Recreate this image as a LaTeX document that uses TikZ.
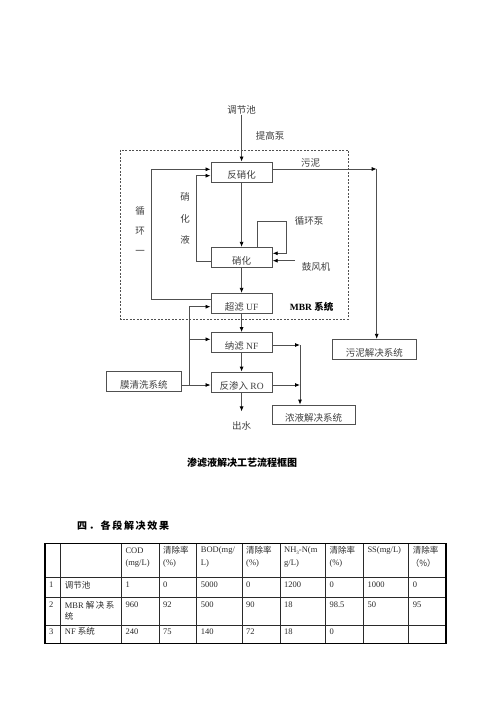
\documentclass[tikz,border=0pt]{standalone}
\usepackage{fontspec}
\setmainfont{Liberation Serif}
\newfontfamily\cjk{Noto Sans CJK SC}
\newfontfamily\cjkh[LetterSpace=17]{Noto Sans CJK SC}
\usetikzlibrary{arrows.meta}
\definecolor{ln}{HTML}{505050}
\definecolor{tx}{HTML}{404040}
\definecolor{tb}{HTML}{2a2a2a}
\tikzset{
  box/.style={draw=ln, line width=0.8pt, inner sep=0pt, minimum width=61.3pt,
    minimum height=20pt, text height=14pt, text depth=0pt, text=tx,
    font=\fontsize{9.5}{11}\selectfont},
  lbl/.style={inner sep=0pt, text=tx, font=\fontsize{9.5}{11}\selectfont\cjk},
  con/.style={draw=ln, line width=0.8pt},
  arr/.style={con, -{Latex[length=5pt,width=4pt,color=black]}},
  tcell/.style={anchor=west, inner sep=0pt, text=tb, font=\fontsize{8.5}{10}\selectfont},
}
\newcommand\tcell[4]{\node[tcell] (#1) at (#2,#3) {#4};}
\begin{document}
\begin{tikzpicture}[x=1pt,y=-1pt]
\useasboundingbox (0,0) rectangle (500,708);
\fill[white] (0,0) rectangle (500,708);

% MBR dashed frame
\draw[ln, line width=0.8pt, dash pattern=on 2pt off 1.5pt] (120.7,150) rectangle (348.3,319.3);

% boxes
\node[box] (dfx) at (241.6,172) {\cjk 反硝化};
\node[box] (xh)  at (241.6,257.3) {\cjk 硝化};
\node[box] (uf)  at (241.6,303.3) {{\cjk 超滤} UF};
\node[box] (nf)  at (241.6,342.5) {{\cjk 纳滤} NF};
\node[box] (ro)  at (241.6,382) {{\cjk 反渗入} RO};
\node[box, minimum width=75.7pt] (mq) at (143.9,381.7) {\cjk 膜清洗系统};
\node[box, minimum width=83.3pt] (wn) at (374.3,349.3) {\cjk 污泥解决系统};
\node[box, minimum width=82.7pt, minimum height=19pt] (ny) at (313.6,414.5) {\cjk 浓液解决系统};

% labels
\node[lbl] (tj) at (241.6,110) {调节池};
\node[lbl] (tb) at (270,135.7) {提高泵};
\node[lbl] (wl) at (310.7,162.7) {污泥};
\node[lbl] (xhb) at (309,221) {循环泵};
\node[lbl] (gf) at (316,267.3) {鼓风机};
\node[lbl, text=black, font=\fontsize{9.5}{11}\selectfont\bfseries] (mbr) at (311.7,306.7) {MBR {\cjk 系统}};
\node[lbl] (cs) at (241.6,426) {出水};
\node[lbl, align=center, font=\fontsize{9.5}{20.3}\selectfont\cjk] (xh1) at (140,230.5) {循\\环\\一};
\node[lbl, align=center, font=\fontsize{9.5}{21.7}\selectfont\cjk] (xhy) at (185,218.5) {硝\\化\\液};

% main flow
\draw[arr] (tj) -- (dfx);
\draw[arr] (dfx) -- (xh);
\draw[arr] (xh) -- (uf);
\draw[arr] (uf) -- (nf);
\draw[arr] (nf) -- (ro);
\draw[arr, shorten >=10pt] (ro) -- (cs);

% recycle 1 (outer)
\coordinate (l1a) at (151.7,299.3);
\coordinate (l1b) at (151.7,169.3);
\draw[arr] ([yshift=4pt]uf.west) -- (l1a) -- (l1b) -- ([yshift=2.7pt]dfx.west);
% nitrified liquid recycle
\coordinate (l2a) at (196.7,261);
\coordinate (l2b) at (196.7,175.7);
\draw[arr] ([yshift=-3.7pt]xh.west) -- (l2a) -- (l2b) -- ([yshift=-3.7pt]dfx.west);

% circulation pump loop
\coordinate (p1) at (257.3,247.3);
\coordinate (p2) at (257.3,221.7);
\coordinate (p3) at (286.7,221.7);
\coordinate (p4) at (286.7,253.3);
\draw[arr] (p1) -- (p2) -- (p3) -- (p4) -- (p4 -| xh.east);
% blower
\coordinate (b1) at (295,260.7);
\draw[arr] (b1) -- (b1 -| xh.east);

% sludge
\coordinate (s1) at (376.7,169);
\draw[arr] (s1 -| dfx.east) -- (s1);
\draw[arr] (s1) -- (s1 |- wn.north);

% membrane cleaning
\coordinate (m1) at (189.3,385);
\coordinate (m2) at (189.3,306.7);
\coordinate (m3) at (189.3,339.3);
\draw[con] (m1 -| mq.east) -- (m1);
\draw[arr] (m1) -- (m1 -| ro.west);
\draw[con] (m1) -- (m2);
\draw[arr] (m2) -- (m2 -| uf.west);
\draw[arr] (m3) -- (m3 -| nf.west);

% concentrate
\coordinate (n1) at (300,345);
\coordinate (n2) at (300,385);
\draw[arr] (n1 -| nf.east) -- (n1);
\draw[arr] (n2 -| ro.east) -- (n2);
\draw[arr] (n1) -- (n1 |- ny.north);

% caption
\node[inner sep=0pt, font=\fontsize{10}{12}\selectfont\cjk\bfseries] (cap) at (242,463) {渗滤液解决工艺流程框图};

% heading
\node[inner sep=0pt, anchor=west, font=\fontsize{10}{12}\selectfont\cjkh\bfseries] (hd) at (77,525.7) {四．各段解决效果};

% table grid
\foreach \x in {60.7,121.3,159,196.7,242,280,325.3,363.3,408.7}
  \draw[tb, line width=0.6pt] (\x,543.3) -- (\x,643.8);
\foreach \y in {577.3,597.7,625}
  \draw[tb, line width=0.6pt] (45,\y) -- (446,\y);
\draw[black, line width=1.3pt] (45,543.3) rectangle (446,643.8);

% header row
\tcell{h2a}{125.3}{550.7}{COD}
\tcell{h2b}{125.3}{563.3}{(mg/L)}
\tcell{h3a}{163}{550.7}{\cjk 清除率}
\tcell{h3b}{163}{563.3}{(\%)}
\tcell{h4a}{200.7}{550.7}{BOD(mg/}
\tcell{h4b}{200.7}{563.3}{L)}
\tcell{h5a}{246}{550.7}{\cjk 清除率}
\tcell{h5b}{246}{563.3}{(\%)}
\tcell{h6a}{284}{550.7}{NH\raisebox{-1.5pt}{\fontsize{5}{5}\selectfont 3}-N(m}
\tcell{h6b}{284}{563.3}{g/L)}
\tcell{h7a}{329.3}{550.7}{\cjk 清除率}
\tcell{h7b}{329.3}{563.3}{(\%)}
\tcell{h8a}{367.3}{550.7}{SS(mg/L)}
\tcell{h9a}{412.7}{550.7}{\cjk 清除率}
\tcell{h9b}{410.7}{563.3}{\cjk （\%）}

% row 1
\tcell{r10}{49}{585}{1}
\tcell{r11}{64.7}{585}{\cjk 调节池}
\tcell{r12}{125.3}{585}{1}
\tcell{r13}{163}{585}{0}
\tcell{r14}{200.7}{585}{5000}
\tcell{r15}{246}{585}{0}
\tcell{r16}{284}{585}{1200}
\tcell{r17}{329.3}{585}{0}
\tcell{r18}{367.3}{585}{1000}
\tcell{r19}{412.7}{585}{0}

% row 2
\tcell{r20}{49}{605}{2}
\tcell{r21}{64.7}{605}{MBR {\cjk 解\,决\,系}}
\tcell{r21b}{64.7}{616.7}{\cjk 统}
\tcell{r22}{125.3}{605}{960}
\tcell{r23}{163}{605}{92}
\tcell{r24}{200.7}{605}{500}
\tcell{r25}{246}{605}{90}
\tcell{r26}{284}{605}{18}
\tcell{r27}{329.3}{605}{98.5}
\tcell{r28}{367.3}{605}{50}
\tcell{r29}{412.7}{605}{95}

% row 3
\tcell{r30}{49}{631.7}{3}
\tcell{r31}{64.7}{631.7}{NF {\cjk 系统}}
\tcell{r32}{125.3}{631.7}{240}
\tcell{r33}{163}{631.7}{75}
\tcell{r34}{200.7}{631.7}{140}
\tcell{r35}{246}{631.7}{72}
\tcell{r36}{284}{631.7}{18}
\tcell{r37}{329.3}{631.7}{0}
\end{tikzpicture}
\end{document}
